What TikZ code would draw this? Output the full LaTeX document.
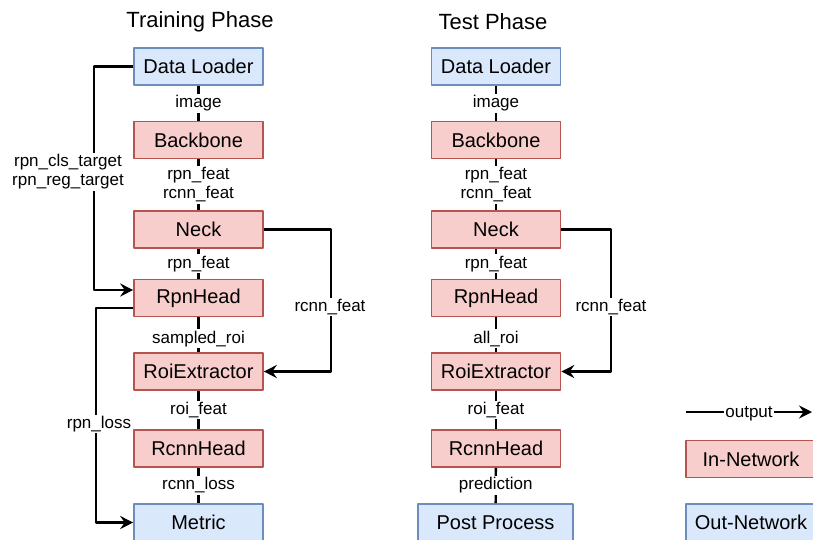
\documentclass[tikz,border=0pt]{standalone}
\usepackage{fontspec}
\setmainfont{Liberation Sans}
\usetikzlibrary{arrows.meta}
\definecolor{redline}{HTML}{B85450}
\definecolor{redfill}{HTML}{F8CECC}
\definecolor{blueline}{HTML}{6C8EBF}
\definecolor{bluefill}{HTML}{DAE8FC}
\begin{document}
\begin{tikzpicture}[x=1pt, y=-1pt, line join=round, >={Stealth[length=13pt,width=13pt,inset=4.5pt]},
	box/.style={draw, line width=1.6pt, minimum width=129pt, minimum height=37pt, inner sep=0pt, font=\fontsize{20}{24}\selectfont},
	innet/.style={box, draw=redline, fill=redfill},
	outnet/.style={box, draw=blueline, fill=bluefill},
	lbl/.style={fill=white, inner sep=1.5pt, align=center, font=\fontsize{17}{19}\selectfont},
	link/.style={line width=2.3pt},
	phase/.style={font=\fontsize{22}{26}\selectfont}]
	\useasboundingbox (0,0) rectangle (813,539);
	\clip (0,0) rectangle (813,539);
	% titles
	\node[phase] (t1) at (200,22) {Training Phase};
	\node[phase] (t2) at (493,22) {Test Phase};
	% training phase
	\node[outnet] (dl1) at (198.5,66.5) {Data Loader};
	\node[innet] (bb1) at (198.5,140) {Backbone};
	\node[innet] (nk1) at (198.5,229.5) {Neck};
	\node[innet] (rh1) at (198.5,298) {RpnHead};
	\node[innet] (re1) at (198.5,371.5) {RoiExtractor};
	\node[innet] (ch1) at (198.5,448.5) {RcnnHead};
	\node[outnet] (mt1) at (198.5,522.5) {Metric};
	\draw[link] (dl1) -- node[lbl]{image} (bb1);
	\draw[link] (bb1) -- node[lbl]{rpn\_feat\\rcnn\_feat} (nk1);
	\draw[link] (nk1) -- node[lbl]{rpn\_feat} (rh1);
	\draw[link] (rh1) -- node[lbl, yshift=-4pt]{sampled\_roi} (re1);
	\draw[link] (re1) -- node[lbl]{roi\_feat} (ch1);
	\draw[link] (ch1) -- node[lbl]{rcnn\_loss} (mt1);
	\draw[link,->] (dl1.west) -- ++(-39,0) |- ([yshift=8pt]rh1.west);
	\draw[link,->] ([yshift=-10pt]rh1.west) -- ++(-37,0) |- (mt1.west);
	\draw[link,->] (nk1.east) -- ++(67,0) |- (re1.east);
	\node[lbl] (tg1) at (68,172) {rpn\_cls\_target\\rpn\_reg\_target};
	\node[lbl] (ls1) at (99,424) {rpn\_loss};
	\node[lbl] (rf1) at (330,307) {rcnn\_feat};
	% test phase
	\node[outnet] (dl2) at (496,66.5) {Data Loader};
	\node[innet] (bb2) at (496,140) {Backbone};
	\node[innet] (nk2) at (496,229.5) {Neck};
	\node[innet] (rh2) at (496,298) {RpnHead};
	\node[innet] (re2) at (496,371.5) {RoiExtractor};
	\node[innet] (ch2) at (496,448.5) {RcnnHead};
	\node[outnet, minimum width=155pt] (pp2) at (495.5,522.5) {Post Process};
	\draw[link] (dl2) -- node[lbl]{image} (bb2);
	\draw[link] (bb2) -- node[lbl]{rpn\_feat\\rcnn\_feat} (nk2);
	\draw[link] (nk2) -- node[lbl]{rpn\_feat} (rh2);
	\draw[link] (rh2) -- node[lbl, yshift=-4pt]{all\_roi} (re2);
	\draw[link] (re2) -- node[lbl]{roi\_feat} (ch2);
	\draw[link] (ch2) -- node[lbl]{prediction} (pp2);
	\draw[link,->] (nk2.east) -- ++(50,0) |- (re2.east);
	\node[lbl] (rf2) at (611,307) {rcnn\_feat};
	% legend
	\coordinate (oa) at (686,412);
	\coordinate (ob) at (812,412);
	\draw[link,->] (oa) -- node[lbl, yshift=-2pt]{output} (ob);
	\node[innet, minimum width=130pt] (lg1) at (751,459) {In-Network};
	\node[outnet, minimum width=130pt] (lg2) at (751,522.5) {Out-Network};
\end{tikzpicture}
\end{document}
